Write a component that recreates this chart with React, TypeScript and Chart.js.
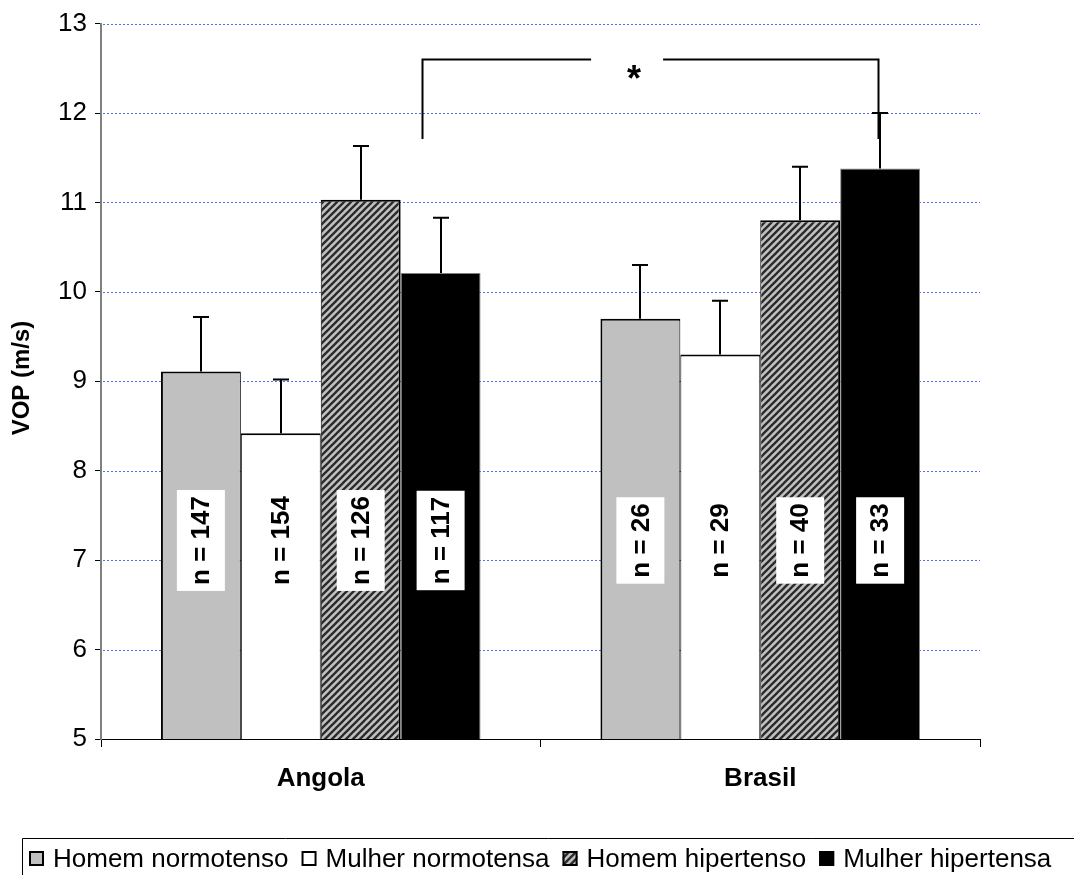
import { useEffect, useRef } from "react";
import { Chart, registerables } from "chart.js";

Chart.register(...registerables);

// ---------------- DATA ----------------
const categories = ["Angola", "Brasil"];
const seriesLabels = ["Homem normotenso", "Mulher normotensa", "Homem hipertenso", "Mulher hipertensa"];

const homemNormotenso = [9.11, 9.7];
const mulherNormotensa = [8.42, 9.3];
const homemHipertenso = [11.03, 10.8];
const mulherHipertensa = [10.21, 11.38];

const sdHomemNormotenso = [0.61, 0.6];
const sdMulherNormotensa = [0.6, 0.6];
const sdHomemHipertenso = [0.6, 0.6];
const sdMulherHipertensa = [0.62, 0.62];

const nHomemNormotenso = [147, 26];
const nMulherNormotensa = [154, 29];
const nHomemHipertenso = [126, 40];
const nMulherHipertensa = [117, 33];

const yTicks = [5, 6, 7, 8, 9, 10, 11, 12, 13];
const yTitle = "VOP (m/s)";
const significanceMark = "*";
const nLabelValue = 7.22; // y level at which n labels sit
const bracketTop = 12.6;
const bracketBottom = 11.71;

const FONT = "'Liberation Sans', Arial, Helvetica, sans-serif";

function makeHatch(): CanvasPattern | string {
  const c = document.createElement("canvas");
  c.width = 7;
  c.height = 7;
  const g = c.getContext("2d");
  if (!g) return "#808080";
  g.fillStyle = "#c0c0c0";
  g.fillRect(0, 0, 7, 7);
  g.strokeStyle = "#2a2a2a";
  g.lineWidth = 2.3;
  g.beginPath();
  g.moveTo(-1, 8);
  g.lineTo(8, -1);
  g.moveTo(-1, 1);
  g.lineTo(1, -1);
  g.moveTo(6, 8);
  g.lineTo(8, 6);
  g.stroke();
  return g.createPattern(c, "repeat") || "#808080";
}

export default function App() {
  const ref = useRef<HTMLCanvasElement | null>(null);

  useEffect(() => {
    if (!ref.current) return;
    const hatch = makeHatch();
    const fills: any[] = ["#c0c0c0", "#ffffff", hatch, "#000000"];
    const values = [homemNormotenso, mulherNormotensa, homemHipertenso, mulherHipertensa];
    const sds = [sdHomemNormotenso, sdMulherNormotensa, sdHomemHipertenso, sdMulherHipertensa];
    const ns = [nHomemNormotenso, nMulherNormotensa, nHomemHipertenso, nMulherHipertensa];
    const borders: any[] = [
      { top: 2, left: 2, right: 1, bottom: 0 },
      { top: 2, left: 1, right: 1, bottom: 0 },
      { top: 2, left: 1, right: 2, bottom: 0 },
      { top: 1, left: 1, right: 1, bottom: 0 },
    ];
    const borderColors = ["#000000", "#000000", "#000000", "#808080"];

    const decor = {
      id: "decor",
      beforeDatasetsDraw(chart: any) {
        const { ctx, chartArea, scales } = chart;
        const y = scales.y;
        ctx.save();
        ctx.strokeStyle = "#4f6ff5";
        ctx.lineWidth = 1;
        ctx.setLineDash([2, 2]);
        yTicks.slice(1).forEach((v) => {
          const py = Math.round(y.getPixelForValue(v)) + 0.5;
          ctx.beginPath();
          ctx.moveTo(chartArea.left + 2, py);
          ctx.lineTo(chartArea.right, py);
          ctx.stroke();
        });
        ctx.restore();
      },
      afterDatasetsDraw(chart: any) {
        const { ctx, scales } = chart;
        const y = scales.y;
        const x = scales.x;
        ctx.save();
        // error bars (upper only)
        ctx.strokeStyle = "#000";
        ctx.lineWidth = 2;
        values.forEach((arr, di) => {
          const meta = chart.getDatasetMeta(di);
          meta.data.forEach((el: any, i: number) => {
            const top = y.getPixelForValue(arr[i] + sds[di][i]);
            const px = Math.round(el.x);
            ctx.beginPath();
            ctx.moveTo(px, el.y);
            ctx.lineTo(px, top);
            ctx.moveTo(px - 8, top);
            ctx.lineTo(px + 8, top);
            ctx.stroke();
          });
        });
        // n labels
        ctx.font = `bold 26px ${FONT}`;
        values.forEach((_arr, di) => {
          const meta = chart.getDatasetMeta(di);
          meta.data.forEach((el: any, i: number) => {
            const text = `n = ${ns[di][i]}`;
            const w = ctx.measureText(text).width;
            const cy = y.getPixelForValue(nLabelValue);
            ctx.save();
            ctx.translate(el.x, cy);
            ctx.rotate(-Math.PI / 2);
            ctx.fillStyle = "#ffffff";
            const boxL = w + 12;
            ctx.fillRect(-boxL / 2, -24, boxL, 48);
            ctx.fillStyle = "#000";
            ctx.textAlign = "center";
            ctx.textBaseline = "middle";
            ctx.fillText(text, 0, 1);
            ctx.restore();
          });
        });
        // significance bracket
        const catW = x.getPixelForValue(1) - x.getPixelForValue(0);
        const leftX = Math.round(x.getPixelForValue(0) + 0.23 * catW) + 0.5;
        const rightEl = chart.getDatasetMeta(3).data[1];
        const rightX = Math.round(rightEl.x) - 1.5;
        const topY = Math.round(y.getPixelForValue(bracketTop)) + 0.5;
        const botY = y.getPixelForValue(bracketBottom);
        const starX = leftX + 0.464 * (rightX - leftX);
        ctx.lineWidth = 2;
        ctx.strokeStyle = "#000";
        ctx.beginPath();
        ctx.moveTo(leftX, botY);
        ctx.lineTo(leftX, topY);
        ctx.lineTo(starX - 43, topY);
        ctx.moveTo(starX + 29, topY);
        ctx.lineTo(rightX, topY);
        ctx.lineTo(rightX, botY);
        ctx.stroke();
        ctx.font = `bold 36px ${FONT}`;
        ctx.fillStyle = "#000";
        ctx.textAlign = "center";
        ctx.textBaseline = "alphabetic";
        const m = ctx.measureText(significanceMark);
        const asc = m.actualBoundingBoxAscent || 20;
        const desc = m.actualBoundingBoxDescent || 0;
        ctx.fillText(significanceMark, starX, topY + 12 + (asc - desc) / 2);
        ctx.restore();
      },
      afterDraw(chart: any) {
        const { ctx } = chart;
        ctx.save();
        // y title
        ctx.translate(22, 378);
        ctx.rotate(-Math.PI / 2);
        ctx.font = `bold 24px ${FONT}`;
        ctx.fillStyle = "#000";
        ctx.textAlign = "center";
        ctx.textBaseline = "middle";
        ctx.fillText(yTitle, 0, 0);
        ctx.restore();

        // legend
        ctx.save();
        ctx.strokeStyle = "#000";
        ctx.lineWidth = 1;
        ctx.beginPath();
        ctx.moveTo(22.5, 880);
        ctx.lineTo(22.5, 838.5);
        ctx.lineTo(1080, 838.5);
        ctx.stroke();
        ctx.font = `26px ${FONT}`;
        ctx.textBaseline = "alphabetic";
        ctx.textAlign = "left";
        let cx = 29;
        seriesLabels.forEach((lab, i) => {
          ctx.fillStyle = fills[i];
          ctx.fillRect(cx, 851, 15, 15);
          ctx.lineWidth = 2;
          ctx.strokeStyle = "#000";
          ctx.strokeRect(cx + 1, 852, 13, 13);
          cx += 15 + 9;
          ctx.fillStyle = "#000";
          ctx.fillText(lab, cx, 867);
          cx += ctx.measureText(lab).width + 13;
        });
        ctx.restore();
      },
    };

    const chart = new Chart(ref.current, {
      type: "bar",
      data: {
        labels: categories,
        datasets: values.map((arr, i) => ({
          label: seriesLabels[i],
          data: arr,
          backgroundColor: fills[i],
          borderColor: borderColors[i],
          borderWidth: borders[i],
          borderSkipped: "bottom",
          categoryPercentage: 320 / 440,
          barPercentage: 1,
        })),
      },
      options: {
        animation: false,
        responsive: false,
        maintainAspectRatio: false,
        events: [],
        layout: { padding: { left: 0, right: 94, top: 22, bottom: 76 } },
        plugins: { legend: { display: false }, tooltip: { enabled: false }, title: { display: false } },
        scales: {
          x: {
            grid: {
              offset: true,
              drawOnChartArea: false,
              drawTicks: true,
              tickLength: 8,
              color: "#000",
            },
            border: { color: "#000", width: 1 },
            ticks: {
              color: "#000",
              font: { family: FONT, size: 26, weight: "bold" },
              padding: 16,
            },
            afterFit: (s: any) => {
              s.height = 60;
            },
          },
          y: {
            min: 5,
            max: 13,
            grid: {
              drawOnChartArea: false,
              drawTicks: true,
              tickLength: 6,
              color: "#000",
            },
            border: { color: "#808080", width: 2 },
            ticks: {
              stepSize: 1,
              color: "#000",
              font: { family: FONT, size: 26 },
              padding: 8,
            },
            afterFit: (s: any) => {
              s.width = 101;
            },
          },
        },
      },
      plugins: [decor],
    } as any);

    return () => chart.destroy();
  }, []);

  return (
    <div style={{ position: "absolute", left: 0, top: 0, width: 1074, height: 875 }}>
      <canvas ref={ref} width={1074} height={875} style={{ display: "block", width: 1074, height: 875 }} />
    </div>
  );
}
